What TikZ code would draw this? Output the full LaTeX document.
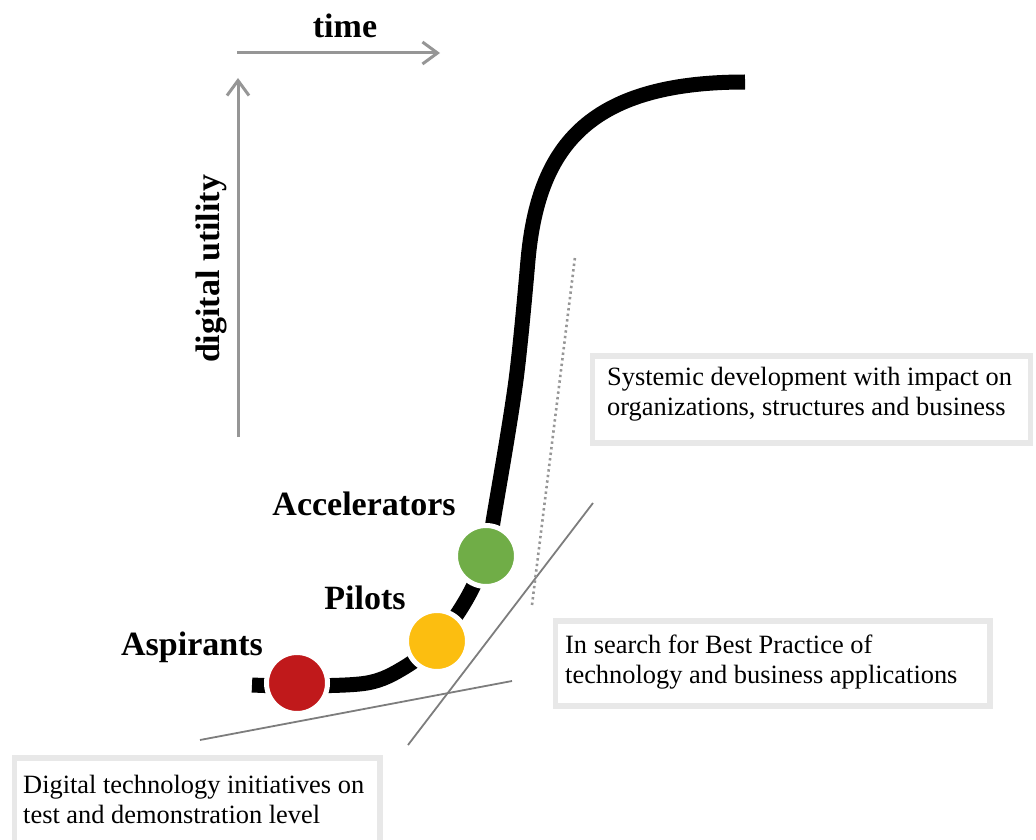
\documentclass[tikz,border=0pt]{standalone}
\usepackage{fontspec}
\setmainfont{Liberation Serif}
\usetikzlibrary{arrows.meta}

\definecolor{axisgray}{RGB}{150,150,150}
\definecolor{linegray}{RGB}{125,125,125}
\definecolor{framegray}{RGB}{232,232,232}
\definecolor{phasered}{RGB}{192,25,27}
\definecolor{phaseyellow}{RGB}{252,190,16}
\definecolor{phasegreen}{RGB}{112,173,71}

\newcommand{\labelfont}{\fontsize{34}{40}\selectfont\bfseries}
\newcommand{\notefont}{\fontsize{26.4}{30}\selectfont}

\tikzset{
  axis/.style={draw=axisgray, line width=3pt, -{Straight Barb[length=15pt,width=22pt,line width=3pt]}},
  guide/.style={draw=linegray, line width=1.8pt},
  dottedguide/.style={draw=axisgray, line width=2.6pt, dash pattern=on 2.4pt off 3.2pt},
  phase/.style={circle, inner sep=0pt, minimum size=61pt, draw=white, line width=5pt},
  phaselabel/.style={font=\labelfont, anchor=base, inner sep=0pt},
  noteframe/.style={draw=framegray, line width=5.5pt},
  % multi-line notes are placed by the baseline of their last line
  notetext/.style={font=\notefont, align=left, anchor=base west, inner sep=0pt},
  scurve/.style={draw=black, line width=15pt}
}

\begin{document}
\begin{tikzpicture}[x=1pt, y=-1pt]
  \useasboundingbox (0,0) rectangle (1036,840);

  % axes
  \coordinate (origin-x) at (237,53);
  \coordinate (time-end) at (440,53);
  \coordinate (origin-y) at (238,437);
  \coordinate (utility-end) at (238,78);
  \draw[axis] (origin-x) -- (time-end);
  \draw[axis] (origin-y) -- (utility-end);
  \node[font=\labelfont, anchor=base, inner sep=0pt] (time) at (345,38) {time};
  \node[font=\labelfont, anchor=base, inner sep=0pt, rotate=90] (utility) at (219,269) {digital utility};

  % tangent guides
  \coordinate (flat-a) at (200,740);
  \coordinate (flat-b) at (512,681);
  \coordinate (steep-a) at (408,745);
  \coordinate (steep-b) at (593,503);
  \coordinate (dot-a) at (532,605);
  \coordinate (dot-b) at (575,257);
  \draw[guide] (flat-a) -- (flat-b);
  \draw[guide] (steep-a) -- (steep-b);
  \draw[dottedguide] (dot-a) -- (dot-b);

  % the S-curve of digital utility over time: rising part, then saturation bend
  \draw[scurve] plot[smooth, tension=0.55] coordinates {
    (252,685) (297,686) (367,683) (405,667) (437,641) (466,600) (486,556)
    (495,510) (516,380) (528,260)}
    .. controls (538,150) and (585,82) .. (745,82);

  % phases
  \node[phase, fill=phasered] (aspirants) at (297,683) {};
  \node[phase, fill=phaseyellow] (pilots) at (437,641) {};
  \node[phase, fill=phasegreen] (accelerators) at (486,556) {};
  \node[phaselabel] (aspirants-label) at (192,655) {Aspirants};
  \node[phaselabel] (pilots-label) at (365,609) {Pilots};
  \node[phaselabel] (accelerators-label) at (364,515) {Accelerators};

  % notes
  \draw[noteframe] (592.5,356) rectangle (1030.5,443);
  \node[notetext] (systemic) at (607,415)
    {Systemic development with impact on\\organizations, structures and business};
  \draw[noteframe] (555.5,621) rectangle (990,706);
  \node[notetext] (practice) at (565,683)
    {In search for Best Practice of\\technology and business applications};
  \draw[noteframe] (14.5,758) rectangle (380,850);
  \node[notetext] (initiatives) at (23,823)
    {Digital technology initiatives on\\test and demonstration level};
\end{tikzpicture}
\end{document}
